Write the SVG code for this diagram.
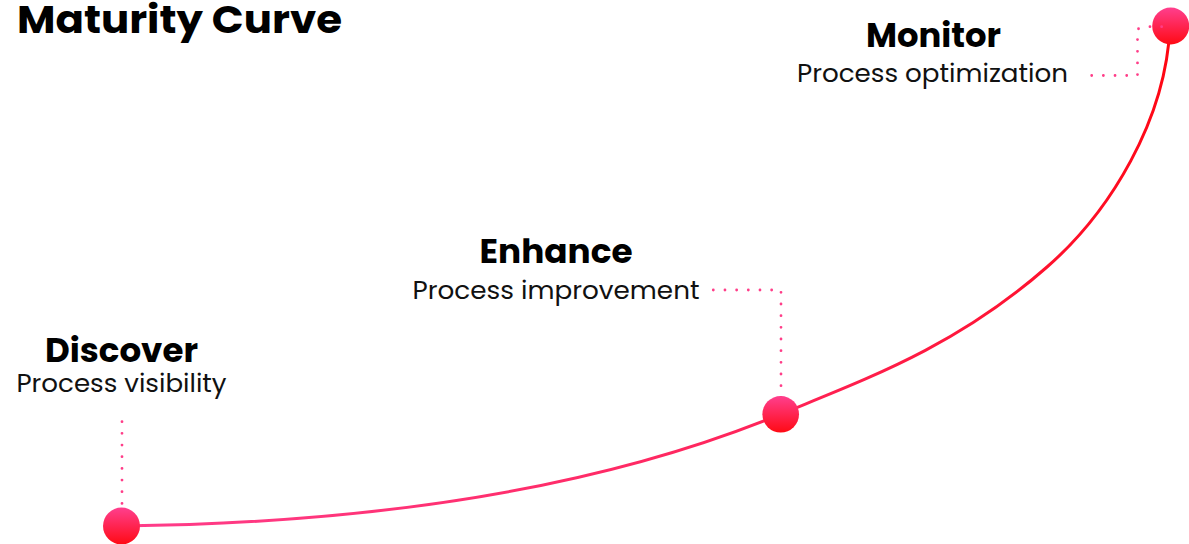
<svg xmlns="http://www.w3.org/2000/svg" width="1189" height="544" viewBox="0 0 1189 544">
  <defs>
    <linearGradient id="curveGrad" gradientUnits="userSpaceOnUse" x1="121" y1="526" x2="1170" y2="26">
      <stop offset="0" stop-color="#ff3d8b"/>
      <stop offset="0.55" stop-color="#ff2358"/>
      <stop offset="1" stop-color="#ff0510"/>
    </linearGradient>
    <linearGradient id="dotGrad" x1="0" y1="0" x2="0" y2="1">
      <stop offset="0" stop-color="#ff3f8e"/>
      <stop offset="1" stop-color="#ff0a14"/>
    </linearGradient>
    <linearGradient id="discDots" gradientUnits="userSpaceOnUse" x1="0" y1="421" x2="0" y2="504">
      <stop offset="0" stop-color="#ff1030"/>
      <stop offset="1" stop-color="#ff3f85"/>
    </linearGradient>
    <style>
      .title { font-family: Poppins, Inter, "Liberation Sans", sans-serif; font-weight: 700; fill: #000; }
      .head { font-family: Poppins, Inter, "Liberation Sans", sans-serif; font-weight: 700; font-size: 34px; fill: #000; text-anchor: middle; }
      .sub { font-family: Poppins, Inter, "Liberation Sans", sans-serif; font-weight: 400; font-size: 24px; fill: #111; text-anchor: middle; }
      .dots { fill: none; stroke: #ff3d88; stroke-width: 2.8; stroke-linecap: round; stroke-dasharray: 0 11.67; }
      .node { fill: url(#dotGrad); }
    </style>
  </defs>

  <text class="title" x="17" y="33" font-size="39" textLength="325" lengthAdjust="spacingAndGlyphs">Maturity Curve</text>

  <g id="connectors">
    <path id="curve" fill="none" stroke="url(#curveGrad)" stroke-width="3" stroke-linecap="round"
      d="M121,526 C300,524 560,505 781,414 C871,377 957,346 1047,267 C1110,212 1166,120 1170,26"/>
  </g>

  <g id="node-discover">
    <circle class="node" cx="121.5" cy="526" r="18.5"/>
    <path class="dots" stroke="url(#discDots)" d="M122,421.7 V504"/>
    <text class="head" x="121.5" y="361.5" textLength="153" lengthAdjust="spacingAndGlyphs">Discover</text>
    <text class="sub" x="121.5" y="392" textLength="210" lengthAdjust="spacingAndGlyphs">Process visibility</text>
  </g>

  <g id="node-enhance">
    <circle class="node" cx="780.7" cy="414.3" r="18.3"/>
    <path class="dots" d="M713.3,290 H781 V400"/>
    <text class="head" x="556" y="262.5" textLength="153" lengthAdjust="spacingAndGlyphs">Enhance</text>
    <text class="sub" x="556" y="299" textLength="287" lengthAdjust="spacingAndGlyphs">Process improvement</text>
  </g>

  <g id="node-monitor">
    <circle class="node" cx="1170.7" cy="26" r="18.5"/>
    <path class="dots" d="M1091.7,75.5 H1137.5 V29 L1147.3,26.7 H1172"/>
    <text class="head" x="933.5" y="46.7" textLength="135" lengthAdjust="spacingAndGlyphs">Monitor</text>
    <text class="sub" x="932.5" y="82" textLength="271" lengthAdjust="spacingAndGlyphs">Process optimization</text>
  </g>
</svg>
